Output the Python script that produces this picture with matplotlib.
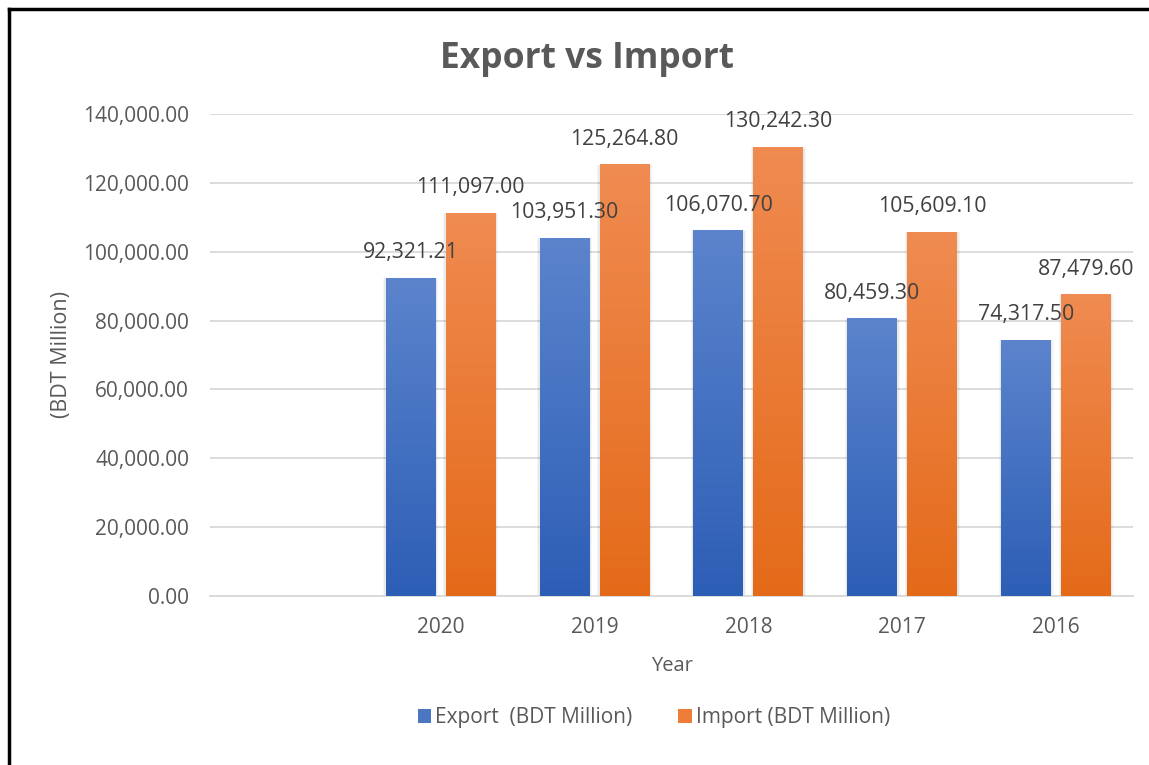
import matplotlib
matplotlib.use("Agg")
import matplotlib.pyplot as plt
import numpy as np
from matplotlib.colors import LinearSegmentedColormap
from matplotlib.patches import Patch
from matplotlib.lines import Line2D

categories = ["", "2020", "2019", "2018", "2017", "2016"]
years = ["2020", "2019", "2018", "2017", "2016"]
export_vals = [92321.21, 103951.30, 106070.70, 80459.30, 74317.50]
import_vals = [111097.00, 125264.80, 130242.30, 105609.10, 87479.60]
yticks = [0, 20000, 40000, 60000, 80000, 100000, 120000, 140000]

plt.rcParams['font.family'] = ['Open Sans', 'DejaVu Sans']

W, H = 1149, 765
fig = plt.figure(figsize=(W / 100, H / 100), dpi=100)
fig.patch.set_facecolor("white")

ax = fig.add_axes([210 / W, 1 - 596 / H, (1133 - 210) / W, (596 - 114) / H])

export_top, export_bot = "#5b84cc", "#2d5eb6"
import_top, import_bot = "#f08b51", "#e46a19"

bw = 0.325
gap = 0.065
x = np.arange(len(categories))
xi = x[1:]

b1 = ax.bar(xi - (bw + gap) / 2, export_vals, bw, color="none", zorder=3)
b2 = ax.bar(xi + (bw + gap) / 2, import_vals, bw, color="none", zorder=3)

grad = np.linspace(1, 0, 256).reshape(-1, 1)
cm_e = LinearSegmentedColormap.from_list("e", [export_bot, export_top])
cm_i = LinearSegmentedColormap.from_list("i", [import_bot, import_top])

for bars, cm in ((b1, cm_e), (b2, cm_i)):
    for r in bars:
        x0, w, h = r.get_x(), r.get_width(), r.get_height()
        # subtle shadow
        for k, a in ((0.016, 0.035), (0.009, 0.05)):
            ax.add_patch(plt.Rectangle((x0 - k, -600), w + 2 * k, h + 600 + k * 3000,
                                       color="#000000", alpha=a, lw=0, zorder=2.5))
        ax.imshow(grad, extent=[x0, x0 + w, 0, h], aspect="auto", cmap=cm,
                  vmin=0, vmax=1, zorder=3, interpolation="bilinear")

# data labels
for bars, vals in ((b1, export_vals), (b2, import_vals)):
    for r, v in zip(bars, vals):
        ax.annotate(f"{v:,.2f}", (r.get_x() + r.get_width() / 2, v),
                    xytext=(0, 18.5), textcoords="offset points",
                    ha="center", va="center", fontsize=15.3, color="#404040", zorder=5)

ax.set_xlim(-0.5, len(categories) - 0.5)
ax.set_ylim(0, 140000)
ax.set_yticks(yticks)
ax.set_yticklabels([f"{v:,.2f}" for v in yticks])
ax.set_xticks(x)
ax.set_xticklabels(categories)
ax.yaxis.grid(True, color="#d9d9d9", lw=1.3, zorder=0)
ax.set_axisbelow(True)
for s in ("top", "right", "left"):
    ax.spines[s].set_visible(False)
ax.spines["bottom"].set_color("#d9d9d9")
ax.spines["bottom"].set_linewidth(1.3)
ax.tick_params(axis="both", length=0, labelsize=15, labelcolor="#595959")
ax.tick_params(axis="y", pad=15)
ax.tick_params(axis="x", pad=15)
ax.set_xlabel("Year", fontsize=14.5, color="#595959", labelpad=13)
ax.set_ylabel("(BDT Million)", fontsize=15.5, color="#595959", labelpad=8)

fig.text(587 / W, 1 - 59 / H, "Export vs Import", ha="center", va="center",
         fontsize=25.5, fontweight="bold", color="#595959")

handles = [Patch(facecolor="#4a76c4", edgecolor="none", label="Export  (BDT Million)"),
           Patch(facecolor="#ee7d3a", edgecolor="none", label="Import (BDT Million)")]
fig.legend(handles=handles, loc="center", bbox_to_anchor=(654 / W, 1 - 718 / H),
           ncol=2, frameon=False, fontsize=15, labelcolor="#595959",
           handlelength=0.65, handleheight=0.65, handletextpad=0.2, columnspacing=2.2)

# frame border (left and top)
fig.add_artist(Line2D([9 / W, 9 / W], [0, 1 - 9 / H], color="black", lw=2.5,
                      transform=fig.transFigure))
fig.add_artist(Line2D([9 / W, 1], [1 - 9 / H, 1 - 9 / H], color="black", lw=2.5,
                      transform=fig.transFigure))

fig.savefig("out.png", dpi=100)
